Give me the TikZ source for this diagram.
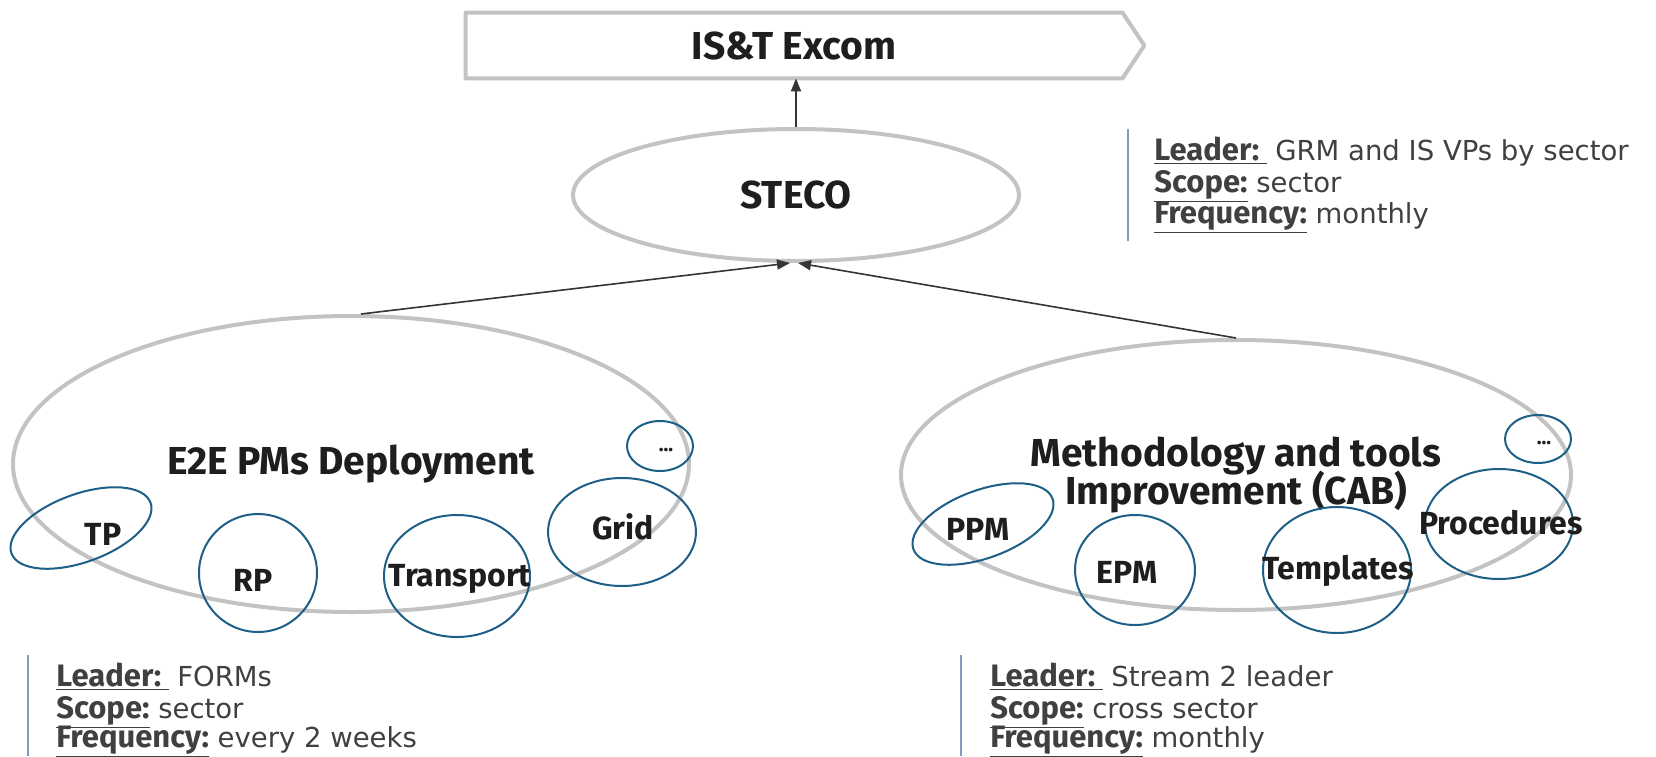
\documentclass[tikz,border=0pt]{standalone}
\usepackage{fontspec}
\setmainfont{DejaVu Sans}
\newfontfamily\headfont{Fira Sans}
\usetikzlibrary{shapes.geometric,arrows.meta}
\definecolor{ringgrey}{HTML}{C3C3C3}
\definecolor{subblue}{HTML}{1D5F87}
\definecolor{barblue}{HTML}{7F9DBA}
\definecolor{txt}{HTML}{1E1E1E}
\newcommand{\keyfont}{\headfont\bfseries\fontsize{15.5}{16}\selectfont}
\newcommand{\leadkey}[1]{{\keyfont\underline{#1~}}~}
\newcommand{\plainkey}[1]{{\keyfont\underline{#1}}~}
\newcommand{\headsize}{\headfont\bfseries\fontsize{19.5}{19}\selectfont\lineskiplimit=-20pt\relax}
\begin{document}
\begin{tikzpicture}[x=0.5pt,y=-0.5pt,
  bigring/.style={ellipse, draw=ringgrey, line width=2pt, inner sep=0pt},
  subring/.style={ellipse, draw=subblue, line width=1pt, inner sep=0pt},
  headtext/.style={font=\headsize, text=txt, align=center},
  subtext/.style={font=\headfont\bfseries\fontsize{16}{18}\selectfont, text=txt, inner sep=0pt},
  dotstext/.style={font=\headfont\bfseries\fontsize{10}{12}\selectfont, text=txt, inner sep=0pt},
  infotext/.style={font=\fontsize{13.75}{15.75}\selectfont, text=txt!85, anchor=base west, inner sep=0pt},
  infobar/.style={draw=barblue, line width=1pt},
  link/.style={draw=txt!90, line width=0.8pt, -{Triangle[length=6.5pt,width=5pt]}}
]
\useasboundingbox (0,0) rectangle (1656,756);
\fill[white] (0,0) rectangle (1656,756);

% top box
\node[headtext, minimum width=328pt, minimum height=32.5pt, inner sep=0pt] (excom) at (794,45.5) {IS\&T Excom};
\draw[draw=ringgrey, line width=2pt, line join=round]
  (excom.north west) -- (excom.north east) -- ([xshift=11pt]excom.east) -- (excom.south east) -- (excom.south west) -- cycle;

% STECO
\node[bigring, headtext, minimum width=223pt, minimum height=66pt] (steco) at (796,195) {STECO};
\draw[link] (steco.north) -- (steco.north |- excom.south);

% big rings
\node[bigring, headtext, minimum width=338pt, minimum height=148pt] (e2e) at (351,464) {E2E PMs Deployment};
\node[bigring, headtext, minimum width=335pt, minimum height=135pt] (mit) at (1236,475) {Methodology and tools\\Improvement (CAB)};

\draw[link] ([xshift=5pt]e2e.north) -- ([xshift=-3pt]steco.south);
\draw[link] (mit.north) -- ([xshift=1pt]steco.south);

% left sub rings
\node[subring, rotate=20, minimum width=74pt, minimum height=34pt] (tp) at (81,528) {};
\node[subtext] (tpl) at (103,534) {TP};
\node[subring, minimum width=59pt, minimum height=59pt] (rp) at (258,573) {};
\node[subtext] (rpl) at (253,580) {RP};
\node[subring, minimum width=73pt, minimum height=61pt] (tr) at (457,576) {};
\node[subtext] (trl) at (460,579) {Transport};
\node[subring, minimum width=74pt, minimum height=54pt] (grid) at (622,532) {};
\node[subtext] (gridl) at (623,527) {Grid};
\node[subring, minimum width=33pt, minimum height=25pt] (dl) at (660,446) {};
\node[dotstext] (dll) at (666,450) {...};

% right sub rings
\node[subring, rotate=20, minimum width=74pt, minimum height=34pt] (ppm) at (983,524) {};
\node[subtext] (ppml) at (978,529) {PPM};
\node[subring, minimum width=60pt, minimum height=55pt] (epm) at (1135,570) {};
\node[subtext] (epml) at (1127,572) {EPM};
\node[subring, minimum width=74pt, minimum height=63pt] (tpl2) at (1337,570) {};
\node[subtext] (tpll) at (1338,571) {Templates};
\node[subring, minimum width=74pt, minimum height=55pt] (proc) at (1499,524) {};
\node[subtext] (procl) at (1501,523) {Procedures};
\node[subring, minimum width=33pt, minimum height=24pt] (dr) at (1538,439) {};
\node[dotstext] (drl) at (1544,443) {...};

% info top right
\coordinate (b1t) at (1128,129);
\coordinate (b1b) at (1128,241);
\draw[infobar] (b1t) -- (b1b);
\node[infotext] (i1a) at (1154,160) {\leadkey{Leader:}GRM and IS VPs by sector};
\node[infotext] (i1b) at (1154,192) {\plainkey{Scope:}sector};
\node[infotext] (i1c) at (1154,223) {\plainkey{Frequency:}monthly};

% info bottom left
\coordinate (b2t) at (28,655);
\coordinate (b2b) at (28,756);
\draw[infobar] (b2t) -- (b2b);
\node[infotext] (i2a) at (56,686) {\leadkey{Leader:}FORMs};
\node[infotext] (i2b) at (56,718) {\plainkey{Scope:}sector};
\node[infotext] (i2c) at (56,747) {\plainkey{Frequency:}every 2 weeks};

% info bottom right
\coordinate (b3t) at (961,655);
\coordinate (b3b) at (961,756);
\draw[infobar] (b3t) -- (b3b);
\node[infotext] (i3a) at (990,686) {\leadkey{Leader:}Stream 2 leader};
\node[infotext] (i3b) at (990,718) {\plainkey{Scope:}cross sector};
\node[infotext] (i3c) at (990,747) {\plainkey{Frequency:}monthly};
\end{tikzpicture}
\end{document}
